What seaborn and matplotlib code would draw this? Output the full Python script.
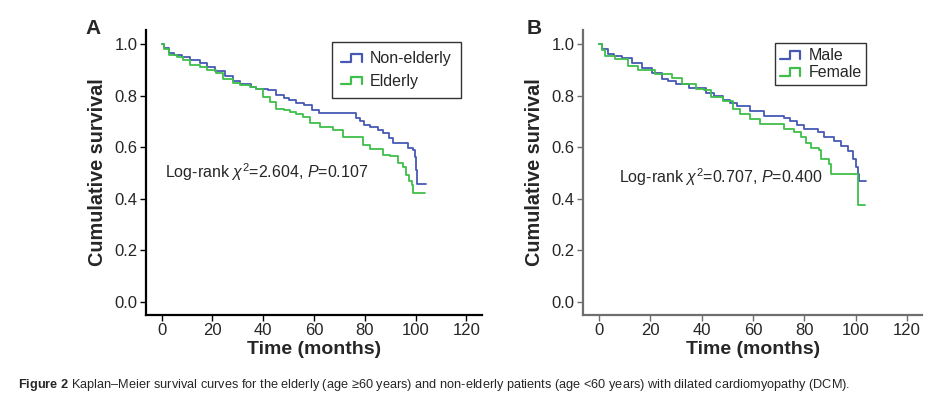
import numpy as np
import pandas as pd
import matplotlib
matplotlib.use("Agg")
import matplotlib.pyplot as plt
from matplotlib.lines import Line2D
from matplotlib.legend_handler import HandlerBase
import seaborn as sns

# Panel A: age groups (time in months, cumulative survival at each step)
nonelderly_t = [0, 1, 3, 5, 8, 11, 15, 18, 21, 25, 28, 31, 35, 37, 42, 45, 48, 50, 53, 56,
                59, 62, 74, 76.5, 78, 79.5, 82, 85, 87, 89.5, 91, 96.3, 97, 99, 99.6, 100.3,
                100.7, 104]
nonelderly_s = [1.0, 0.985, 0.966, 0.958, 0.948, 0.938, 0.925, 0.91, 0.895, 0.875, 0.858, 0.845,
                0.832, 0.824, 0.822, 0.802, 0.792, 0.783, 0.772, 0.764, 0.744, 0.734, 0.731,
                0.712, 0.70, 0.686, 0.68, 0.665, 0.654, 0.634, 0.615, 0.615, 0.596, 0.589,
                0.563, 0.512, 0.457, 0.457]
elderly_t = [0, 1, 3, 6, 8.4, 11, 15, 18, 21.5, 24, 28, 31, 34.6, 37.3, 39.9, 42.5, 45, 48,
             50.4, 53, 55.6, 58.3, 62.2, 67.5, 71.4, 76.6, 79.3, 81.9, 85.8, 87.1, 89.8, 93,
             95, 96.3, 97.5, 98.5, 99, 103.5]
elderly_s = [1.0, 0.98, 0.957, 0.948, 0.94, 0.918, 0.91, 0.9, 0.886, 0.863, 0.848, 0.84, 0.832,
             0.824, 0.796, 0.776, 0.75, 0.745, 0.738, 0.728, 0.718, 0.693, 0.677, 0.667, 0.641,
             0.638, 0.609, 0.592, 0.592, 0.57, 0.566, 0.54, 0.524, 0.492, 0.47, 0.453, 0.421,
             0.421]

# Panel B: sex
male_t = [0, 1, 3.6, 6, 8.8, 12.8, 16.7, 20.6, 24.6, 27, 29.9, 35.1, 41.7, 45, 48.3, 51, 53.6,
          58.8, 64.1, 72, 74.6, 77, 79.9, 85.2, 87.8, 91.7, 94.4, 97, 99, 100.3, 100.9, 101.2,
          104.2]
male_s = [1.0, 0.98, 0.96, 0.952, 0.945, 0.928, 0.909, 0.889, 0.864, 0.855, 0.844, 0.829, 0.812,
          0.798, 0.783, 0.772, 0.761, 0.741, 0.722, 0.713, 0.703, 0.688, 0.671, 0.658, 0.638,
          0.625, 0.606, 0.587, 0.555, 0.522, 0.497, 0.468, 0.468]
female_t = [0, 1, 2.2, 6.2, 11.4, 15.4, 22, 28.5, 32.5, 37.8, 41, 43.7, 48.3, 52.2, 55, 58.8,
            62.8, 70.6, 72, 75.9, 78.6, 80.5, 82.5, 85.8, 86.4, 89.8, 90.4, 100.9, 103.6]
female_s = [1.0, 0.975, 0.954, 0.941, 0.915, 0.898, 0.883, 0.87, 0.844, 0.825, 0.82, 0.793, 0.78,
            0.748, 0.73, 0.709, 0.692, 0.692, 0.671, 0.658, 0.638, 0.615, 0.597, 0.59, 0.555,
            0.535, 0.497, 0.375, 0.375]

x_ticks = [0, 20, 40, 60, 80, 100, 120]
y_ticks = [0.0, 0.2, 0.4, 0.6, 0.8, 1.0]

BLUE = "#4658b4"
GREEN = "#3fbf4a"


class StepHandler(HandlerBase):
    # draws the little step glyph used in SPSS legends
    def create_artists(self, legend, orig_handle, xdescent, ydescent, width, height, fontsize, trans):
        x0, x1 = -xdescent, -xdescent + width
        y0, y1 = -ydescent + height * 0.1, -ydescent + height * 0.8
        xs = [x0, x0 + width * 0.45, x0 + width * 0.45, x1 * 0.93, x1 * 0.93]
        ys = [y0, y0, y1, y1, y0]
        ln = Line2D(xs, ys, color=orig_handle.get_color(), lw=1.6, transform=trans)
        return [ln]


def km_frame(groups):
    rows = []
    for name, t, s in groups:
        rows.append(pd.DataFrame({"time": t, "surv": s, "group": name}))
    return pd.concat(rows, ignore_index=True)


sns.set_style("ticks")
plt.rcParams["font.family"] = ["Liberation Sans", "DejaVu Sans"]
plt.rcParams["mathtext.fontset"] = "custom"
plt.rcParams["mathtext.rm"] = "Liberation Sans"
plt.rcParams["mathtext.it"] = "Liberation Sans:italic"
plt.rcParams["mathtext.bf"] = "Liberation Sans:bold"

fig = plt.figure(figsize=(9.28, 3.98), dpi=100)
axA = fig.add_axes([0.157, 0.2085, 0.362, 0.7165])
axB = fig.add_axes([0.628, 0.2085, 0.366, 0.7165])

panels = [
    (axA, "A", [("Non-elderly", nonelderly_t, nonelderly_s), ("Elderly", elderly_t, elderly_s)],
     r"Log-rank $\chi^2$=2.604, $P$=0.107", (1.2, 0.504), "black",
     dict(bbox_to_anchor=(0.94, 0.958), borderpad=0.6, labelspacing=0.45), -0.18),
    (axB, "B", [("Male", male_t, male_s), ("Female", female_t, female_s)],
     r"Log-rank $\chi^2$=0.707, $P$=0.400", (7.9, 0.483), "#6e6e6e",
     dict(bbox_to_anchor=(0.835, 0.954), borderpad=0.3, labelspacing=0.15), -0.165),
]

for ax, letter, groups, stat, pos, spine_col, leg_kw, letter_x in panels:
    df = km_frame(groups)
    names = [g[0] for g in groups]
    sns.lineplot(data=df, x="time", y="surv", hue="group", hue_order=names,
                 palette=[BLUE, GREEN], estimator=None, sort=False,
                 drawstyle="steps-post", linewidth=1.3, legend=False, ax=ax)
    ax.set_xlim(-6.3, 126)
    ax.set_ylim(-0.05, 1.055)
    ax.set_xticks(x_ticks)
    ax.set_yticks(y_ticks)
    ax.set_yticklabels([f"{v:.1f}" for v in y_ticks])
    ax.tick_params(labelsize=12, length=4, width=1.0, color=spine_col, pad=2)
    for side in ["left", "bottom"]:
        ax.spines[side].set_color(spine_col)
        ax.spines[side].set_linewidth(1.6)
    sns.despine(ax=ax)
    ax.set_xlabel("Time (months)", fontsize=14, fontweight="bold", labelpad=2)
    ax.set_ylabel("Cumulative survival", fontsize=14.3, fontweight="bold", labelpad=5)
    ax.text(pos[0], pos[1], stat, fontsize=11.5, va="center", ha="left")
    ax.text(letter_x, 1.005, letter, transform=ax.transAxes, fontsize=15, fontweight="bold",
            ha="left", va="center")

    handles = [Line2D([], [], color=c) for c in [BLUE, GREEN]]
    leg = ax.legend(handles, names, handler_map={Line2D: StepHandler()},
                    loc="upper right", fontsize=11.5, frameon=True, fancybox=False,
                    handlelength=1.4, handletextpad=0.4, borderaxespad=0, **leg_kw)
    leg.get_frame().set_edgecolor("black")
    leg.get_frame().set_linewidth(1.0)

fig.text(0.019, 0.032, r"$\bf{Figure\ 2}$ Kaplan–Meier survival curves for the elderly (age ≥60 years) and "
         "non-elderly patients (age <60 years) with dilated cardiomyopathy (DCM).",
         fontsize=9.2, ha="left", va="center")

fig.savefig("out.png", dpi=100)
